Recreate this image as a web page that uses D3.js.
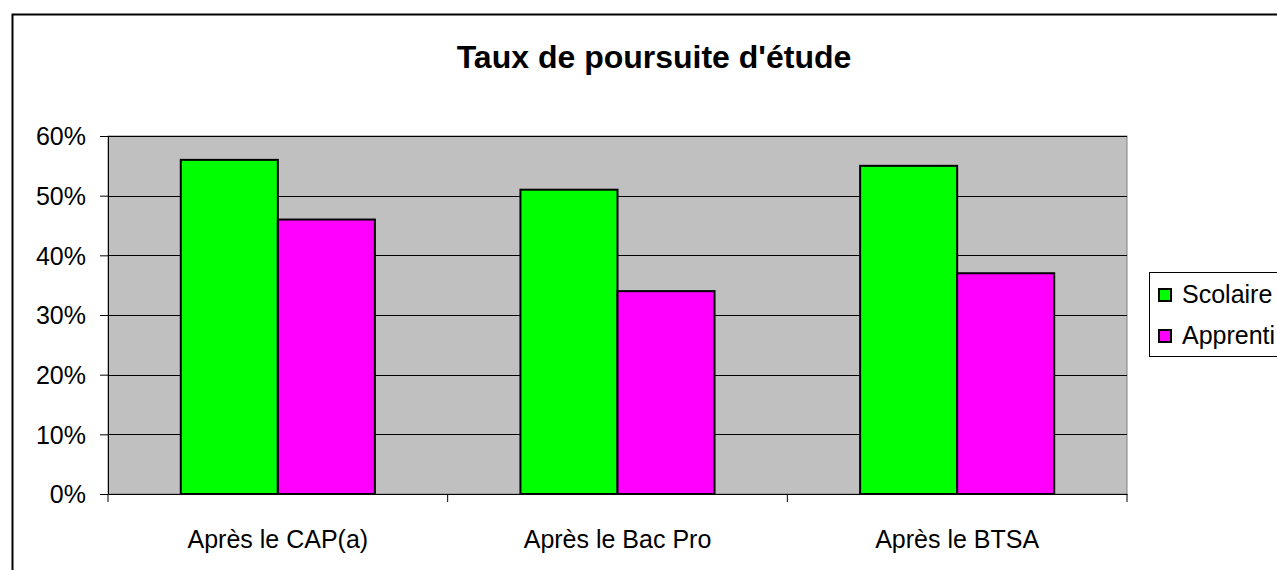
<!DOCTYPE html>
<html>
<head>
<meta charset="utf-8">
<script src="https://d3js.org/d3.v7.min.js"></script>
<style>
body { margin: 0; background: #fff; }
text { font-family: "Liberation Sans", Arial, sans-serif; fill: #000; }
</style>
</head>
<body>
<script>

var categories = ["Après le CAP(a)", "Après le Bac Pro", "Après le BTSA"];
var series = ["Scolaire", "Apprenti"];
var scolaire = [0.56, 0.51, 0.55];
var apprenti = [0.46, 0.34, 0.37];
var yTicks = [0, 0.1, 0.2, 0.3, 0.4, 0.5, 0.6];
var colors = ["#00ff00", "#ff00ff"];

var width = 1277, height = 570;
var plot = {left: 108, top: 136, right: 1127, bottom: 494};

var svg = d3.select("body").append("svg")
  .attr("width", width)
  .attr("height", height);

// outer chart border
svg.append("rect")
  .attr("x", 12.5).attr("y", 14.5)
  .attr("width", 1300).attr("height", 600)
  .attr("fill", "#fff").attr("stroke", "#000").attr("stroke-width", 2);

svg.append("text")
  .attr("x", 654).attr("y", 68)
  .attr("text-anchor", "middle")
  .attr("font-size", 32).attr("font-weight", "bold")
  .text("Taux de poursuite d'étude");

var x = d3.scaleBand().domain(categories)
  .range([plot.left, plot.right]);

var y = d3.scaleLinear().domain([0, 0.6])
  .range([plot.bottom, plot.top]);

// plot area
svg.append("rect")
  .attr("x", plot.left).attr("y", plot.top)
  .attr("width", plot.right - plot.left).attr("height", plot.bottom - plot.top)
  .attr("fill", "#c0c0c0").attr("stroke", "#808080").attr("stroke-width", 1);

svg.append("g").selectAll("line")
  .data(yTicks.slice(1))
  .join("line")
  .attr("x1", plot.left).attr("x2", plot.right)
  .attr("y1", d => Math.round(y(d)) + 0.5).attr("y2", d => Math.round(y(d)) + 0.5)
  .attr("stroke", "#000").attr("stroke-width", 1);

// bars
var barW = x.bandwidth() / 3.5;
var data = [];
categories.forEach(function(c, i) {
  data.push({cat: c, s: 0, v: scolaire[i]});
  data.push({cat: c, s: 1, v: apprenti[i]});
});

svg.append("g").selectAll("rect")
  .data(data)
  .join("rect")
  .attr("x", d => x(d.cat) + barW * 0.75 + d.s * barW)
  .attr("y", d => y(d.v))
  .attr("width", barW)
  .attr("height", d => y(0) - y(d.v))
  .attr("fill", d => colors[d.s])
  .attr("stroke", "#000").attr("stroke-width", 2);

// y axis
var yAxis = svg.append("g")
  .attr("transform", "translate(" + plot.left + ",0)")
  .call(d3.axisLeft(y).tickValues(yTicks).tickFormat(d3.format(".0%")).tickSizeOuter(0).tickSize(8).tickPadding(14));
yAxis.attr("font-size", 25).attr("font-family", "Liberation Sans, Arial, sans-serif");
yAxis.select(".domain").attr("stroke", "#000");
yAxis.selectAll(".tick line").attr("stroke", "#000");
yAxis.selectAll("text").attr("fill", "#000").attr("dy", "0.35em");

// x axis
var xAxis = svg.append("g")
  .attr("transform", "translate(0," + plot.bottom + ")")
  .call(d3.axisBottom(x).tickSize(0).tickSizeOuter(0).tickPadding(36));
xAxis.attr("font-size", 25).attr("font-family", "Liberation Sans, Arial, sans-serif");
xAxis.select(".domain").attr("stroke", "#000");
xAxis.selectAll("text").attr("fill", "#000");
svg.append("g").selectAll("line")
  .data(categories.concat(["end"]))
  .join("line")
  .attr("x1", d => d === "end" ? plot.right : x(d))
  .attr("x2", d => d === "end" ? plot.right : x(d))
  .attr("y1", plot.bottom).attr("y2", plot.bottom + 8)
  .attr("stroke", "#000");

// legend
var lg = svg.append("g");
lg.append("rect")
  .attr("x", 1149.5).attr("y", 272.5)
  .attr("width", 200).attr("height", 84)
  .attr("fill", "#fff").attr("stroke", "#000");
series.forEach(function(s, i) {
  lg.append("rect")
    .attr("x", 1159).attr("y", 289 + i * 41)
    .attr("width", 12).attr("height", 12)
    .attr("fill", colors[i]).attr("stroke", "#000").attr("stroke-width", 2);
  lg.append("text")
    .attr("x", 1182).attr("y", 303 + i * 41)
    .attr("font-size", 25)
    .text(s);
});

</script>
</body>
</html>
